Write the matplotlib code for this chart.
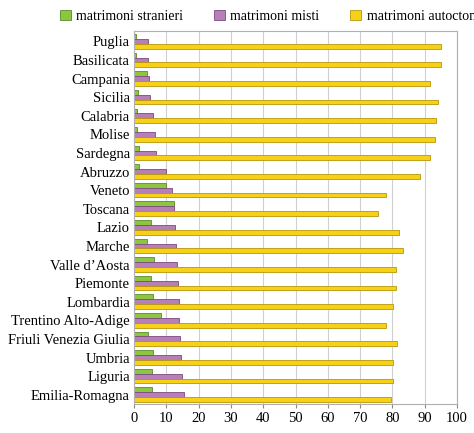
import numpy as np
import matplotlib.pyplot as plt

plt.rcParams['font.family'] = ['Liberation Serif', 'DejaVu Serif']

regioni = ["Puglia", "Basilicata", "Campania", "Sicilia", "Calabria", "Molise",
           "Sardegna", "Abruzzo", "Veneto", "Toscana", "Lazio", "Marche",
           "Valle d\u2019Aosta", "Piemonte", "Lombardia", "Trentino Alto-Adige",
           "Friuli Venezia Giulia", "Umbria", "Liguria", "Emilia-Romagna"]
stranieri = [0.5, 0.5, 4.0, 1.2, 0.8, 0.8, 1.5, 1.5, 10.0, 12.4,
             5.2, 4.0, 6.2, 5.3, 5.9, 8.2, 4.4, 5.9, 5.6, 5.6]
misti = [4.3, 4.4, 4.6, 4.9, 5.8, 6.4, 6.8, 10.0, 11.8, 12.4,
         12.7, 12.9, 13.3, 13.6, 13.9, 13.9, 14.3, 14.6, 14.7, 15.3]
autoctoni = [95.1, 95.0, 91.6, 94.1, 93.6, 93.2, 91.7, 88.5, 78.1, 75.5,
             82.2, 83.3, 81.0, 81.1, 80.3, 78.1, 81.4, 80.1, 80.1, 79.5]

fig = plt.figure(figsize=(4.74, 4.33), dpi=100)
ax = fig.add_axes([0.283, 0.067, 0.681, 0.861])

y = np.arange(len(regioni))
h = 0.26
kw = dict(height=h, linewidth=0.6)
ax.barh(y - h, stranieri, color='#8cc63e', edgecolor='#5a8a2a', label='matrimoni stranieri', **kw)
ax.barh(y, misti, color='#b77fb8', edgecolor='#7d4a80', label='matrimoni misti', **kw)
ax.barh(y + h, autoctoni, color='#f7d117', edgecolor='#b8960a', label='matrimoni autoctoni', **kw)

ax.set_ylim(len(regioni) - 0.5, -0.55)
ax.set_xlim(0, 100)
ax.set_xticks(range(0, 101, 10))
ax.set_yticks(y)
ax.set_yticklabels(regioni)
ax.tick_params(labelsize=10.5, length=0, pad=3)
ax.tick_params(axis='x', length=3, color='#888888')
ax.grid(axis='x', color='#d0d0d0', linewidth=0.8)
ax.set_axisbelow(True)
for s in ax.spines.values():
    s.set_color('#b0b0b0')

ax.legend(loc='lower center', bbox_to_anchor=(0.42, 1.0), ncol=3, frameon=False,
          fontsize=10, handlelength=0.8, handleheight=0.8, columnspacing=2.2,
          handletextpad=0.4, borderaxespad=0.2)

fig.savefig('out.png', dpi=100)
